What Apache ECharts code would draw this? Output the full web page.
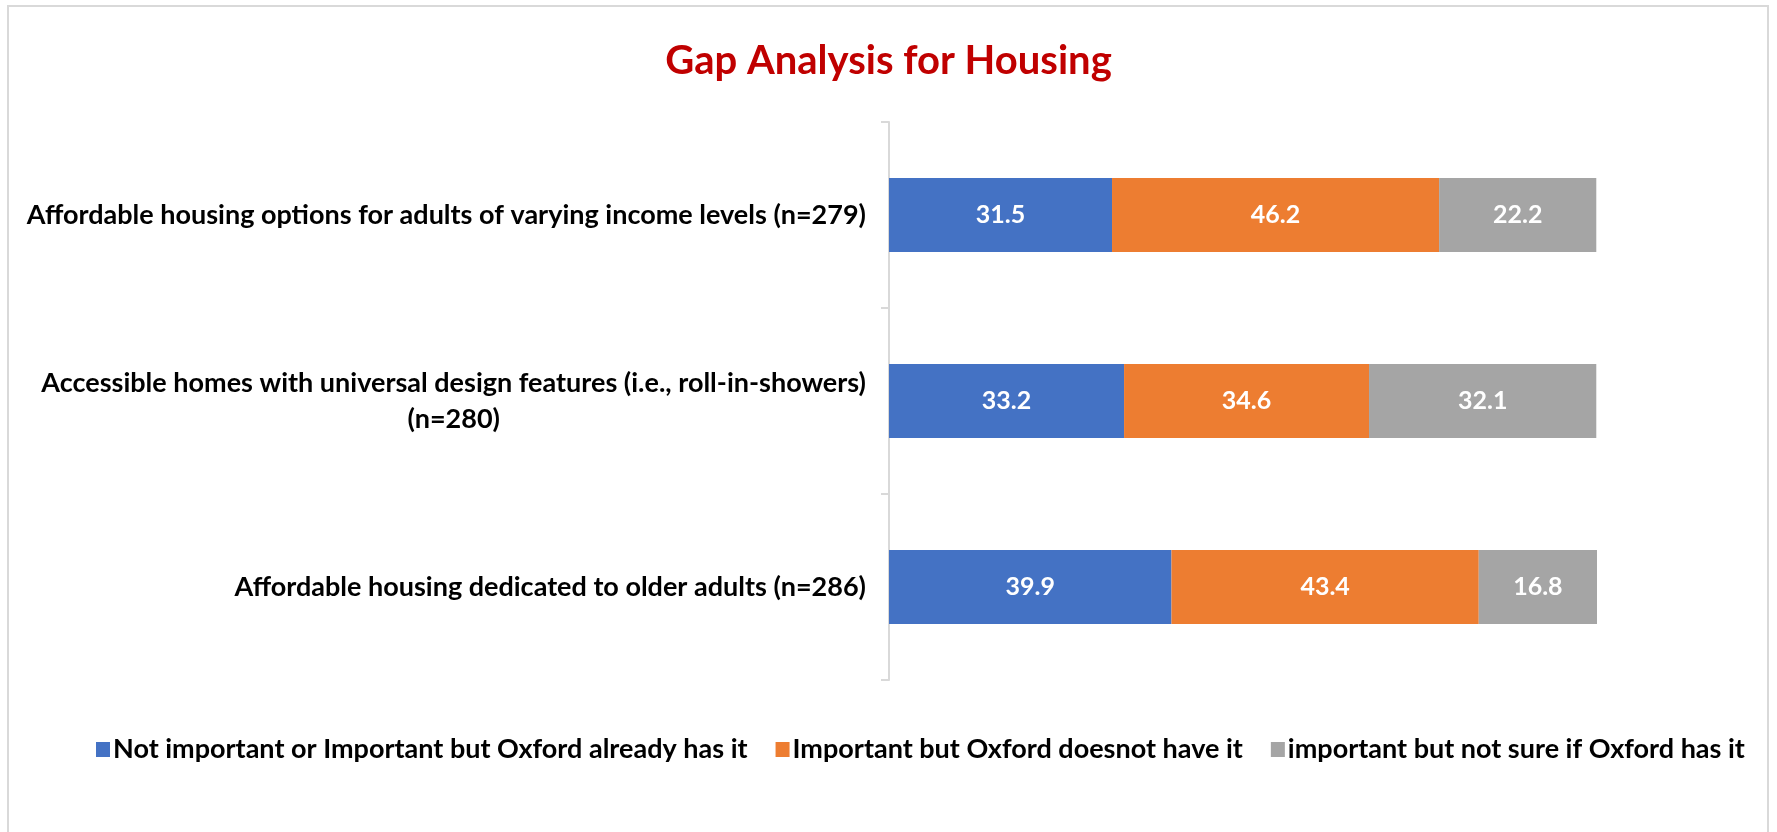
<!DOCTYPE html>
<html>
<head>
<meta charset="utf-8">
<script src="https://cdn.jsdelivr.net/npm/echarts@6/dist/echarts.min.js"></script>
<style>
  html, body { margin: 0; padding: 0; background: #fff; }
  #chart { width: 1777px; height: 832px; }
</style>
</head>
<body>
<div id="chart"></div>
<script>
const categories = [
  'Affordable housing options for adults of varying income levels (n=279)',
  'Accessible homes with universal design features (i.e., roll-in-showers)\n(n=280)',
  'Affordable housing dedicated to older adults (n=286)'
];
const seriesNames = [
  'Not important or Important but Oxford already has it',
  'Important but Oxford doesnot have it',
  'important but not sure if Oxford has it'
];
const alreadyHas = [31.5, 33.2, 39.9];
const doesNotHave = [46.2, 34.6, 43.4];
const notSure = [22.2, 32.1, 16.8];
const colors = ['#4472C4', '#ED7D31', '#A5A5A5'];

const font = 'Lato, "Noto Sans", sans-serif';
const chart = echarts.init(document.getElementById('chart'), null, { renderer: 'canvas' });

const barLabel = {
  show: true,
  position: 'inside',
  color: '#fff',
  fontWeight: 'bold',
  fontSize: 25,
  fontFamily: font
};

const makeSeries = (name, data, i) => ({
  name: name,
  type: 'bar',
  stack: 'total',
  barWidth: 74,
  data: data,
  itemStyle: { color: colors[i] },
  label: barLabel
});

chart.setOption({
  animation: false,
  graphic: [
    {
      type: 'rect',
      shape: { x: 8, y: 6, width: 1760, height: 900 },
      style: { fill: 'none', stroke: '#d9d9d9', lineWidth: 2 }
    }
  ],
  title: {
    text: 'Gap Analysis for Housing',
    left: 'center',
    top: 36,
    textStyle: { color: '#C00000', fontSize: 40, fontWeight: 'bold', fontFamily: font }
  },
  legend: {
    left: 91,
    top: 731,
    icon: 'rect',
    itemWidth: 14,
    itemHeight: 15,
    itemGap: 28,
    itemStyle: { borderWidth: 0 },
    textStyle: { color: '#000', fontSize: 27, fontWeight: 'bold', fontFamily: font, padding: [0, 0, 0, -2] },
    data: seriesNames
  },
  grid: { left: 889, right: 180, top: 122, bottom: 152, outerBoundsMode: 'none' },
  xAxis: {
    type: 'value',
    min: 0,
    max: 100,
    show: false
  },
  yAxis: {
    type: 'category',
    inverse: true,
    data: categories,
    axisLine: { show: true, lineStyle: { color: '#d9d9d9', width: 2 } },
    axisTick: { show: true, length: 8, lineStyle: { color: '#d9d9d9', width: 2 } },
    axisLabel: {
      margin: 23,
      align: 'right',
      formatter: v => v.split('\n').map(s => '{c|' + s + '}').join('\n'),
      rich: {
        c: { color: '#000', fontSize: 27, fontWeight: 'bold', fontFamily: font, align: 'center', lineHeight: 36 }
      }
    },
    splitLine: { show: false }
  },
  series: [
    makeSeries(seriesNames[0], alreadyHas, 0),
    makeSeries(seriesNames[1], doesNotHave, 1),
    makeSeries(seriesNames[2], notSure, 2)
  ]
});
window.addEventListener('resize', chart.resize);
</script>
</body>
</html>
